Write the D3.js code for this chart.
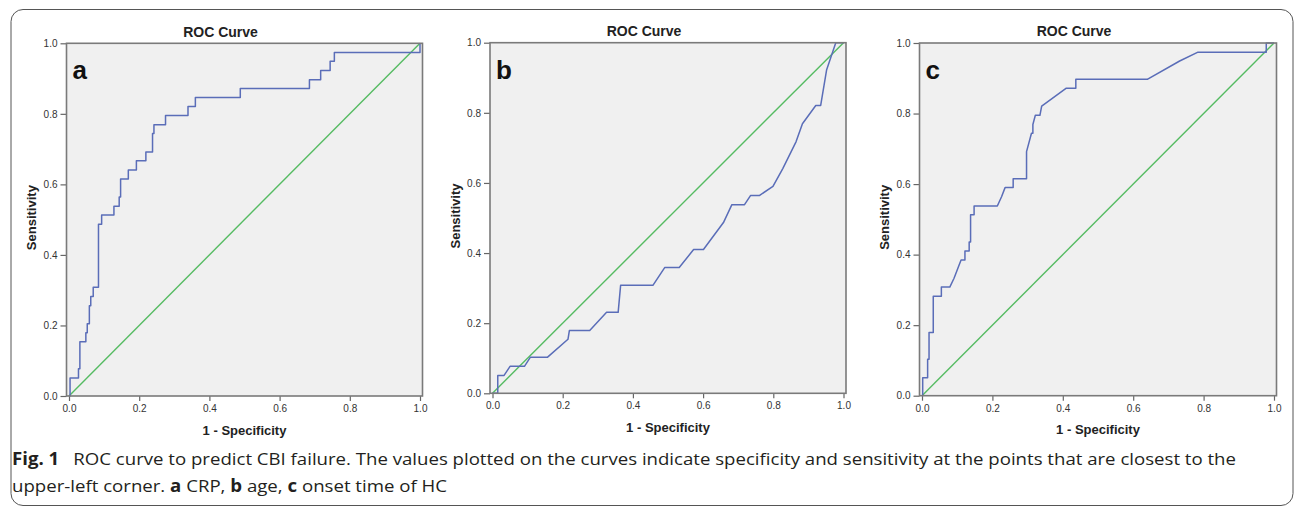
<!DOCTYPE html>
<html lang="en">
<head>
<meta charset="UTF-8">
<title>Fig. 1 ROC curves</title>
<script src="https://cdn.jsdelivr.net/npm/d3@7"></script>
<style>
    body { margin: 0; background: #fff; }
    svg { display: block; }
    .tick text { font-family: "Liberation Sans", Arial, sans-serif; font-size: 10px; fill: #333; }
    .tick line { stroke: #666; stroke-width: 1.2; }
</style>
</head>
<body>
<svg id="fig" width="1295" height="507"></svg>
<script>
// ROC data (1 - specificity, sensitivity)
const fprA = [0, 0.003, 0.003, 0.027, 0.027, 0.031, 0.031, 0.048, 0.048, 0.052, 0.052, 0.058, 0.058, 0.062, 0.062, 0.069, 0.069, 0.084, 0.084, 0.093, 0.093, 0.128, 0.128, 0.143, 0.143, 0.147, 0.147, 0.169, 0.169, 0.192, 0.192, 0.219, 0.219, 0.238, 0.238, 0.242, 0.242, 0.275, 0.275, 0.339, 0.339, 0.360, 0.360, 0.488, 0.488, 0.685, 0.685, 0.717, 0.717, 0.744, 0.744, 0.756, 0.756, 1.0, 1.0];
const tprA = [0, 0, 0.051, 0.051, 0.077, 0.077, 0.154, 0.154, 0.179, 0.179, 0.205, 0.205, 0.256, 0.256, 0.282, 0.282, 0.308, 0.308, 0.487, 0.487, 0.513, 0.513, 0.538, 0.538, 0.564, 0.564, 0.615, 0.615, 0.641, 0.641, 0.667, 0.667, 0.692, 0.692, 0.744, 0.744, 0.769, 0.769, 0.795, 0.795, 0.821, 0.821, 0.846, 0.846, 0.872, 0.872, 0.897, 0.897, 0.923, 0.923, 0.949, 0.949, 0.974, 0.974, 1.0];

const fprB = [0, 0.015, 0.015, 0.033, 0.050, 0.091, 0.108, 0.157, 0.215, 0.219, 0.277, 0.325, 0.358, 0.365, 0.457, 0.491, 0.532, 0.573, 0.601, 0.658, 0.682, 0.718, 0.735, 0.760, 0.799, 0.827, 0.865, 0.883, 0.921, 0.935, 0.952, 0.978, 1.0];
const tprB = [0, 0, 0.051, 0.051, 0.077, 0.077, 0.103, 0.103, 0.154, 0.179, 0.179, 0.231, 0.231, 0.308, 0.308, 0.359, 0.359, 0.410, 0.410, 0.487, 0.538, 0.538, 0.564, 0.564, 0.590, 0.641, 0.718, 0.769, 0.821, 0.821, 0.923, 1.0, 1.0];

const fprC = [0, 0.002, 0.002, 0.016, 0.016, 0.020, 0.020, 0.032, 0.032, 0.055, 0.055, 0.079, 0.091, 0.106, 0.111, 0.122, 0.122, 0.134, 0.134, 0.138, 0.138, 0.148, 0.148, 0.214, 0.226, 0.236, 0.259, 0.259, 0.297, 0.297, 0.311, 0.315, 0.315, 0.322, 0.335, 0.340, 0.410, 0.437, 0.437, 0.640, 0.732, 0.784, 0.978, 0.978, 1.0];
const tprC = [0, 0, 0.051, 0.051, 0.103, 0.103, 0.179, 0.179, 0.282, 0.282, 0.308, 0.308, 0.333, 0.372, 0.385, 0.385, 0.410, 0.410, 0.436, 0.436, 0.513, 0.513, 0.538, 0.538, 0.564, 0.590, 0.590, 0.615, 0.615, 0.692, 0.744, 0.744, 0.769, 0.795, 0.795, 0.821, 0.872, 0.872, 0.897, 0.897, 0.949, 0.974, 0.974, 1.0, 1.0];

// reference diagonal
const refLine = [0, 1];
const tickValues = [0, 0.2, 0.4, 0.6, 0.8, 1.0];
const panelLetters = ["a", "b", "c"];
const chartTitle = "ROC Curve";
const xLabel = "1 - Specificity";
const yLabel = "Sensitivity";

// panel frames (pixel boxes in the page)
const panels = [
    {letter: panelLetters[0], fpr: fprA, tpr: tprA, L: 66.5, R: 422.5, T: 43.3, B: 396},
    {letter: panelLetters[1], fpr: fprB, tpr: tprB, L: 490, R: 846, T: 42.7, B: 393.3},
    {letter: panelLetters[2], fpr: fprC, tpr: tprC, L: 919.5, R: 1276.5, T: 43, B: 395.7}
];

const svg = d3.select("#fig");
const sans = '"Liberation Sans", Arial, sans-serif';

// outer rounded frame of the figure
svg.append("rect")
    .attr("x", 11).attr("y", 9.5)
    .attr("width", 1282).attr("height", 496)
    .attr("rx", 12)
    .attr("fill", "none")
    .attr("stroke", "#555")
    .attr("stroke-width", 1);

panels.forEach(p => {
    const x = d3.scaleLinear().domain([0, 1]).range([p.L + 2.5, p.R - 2.5]);
    const y = d3.scaleLinear().domain([0, 1]).range([p.B, p.T]);
    const g = svg.append("g");

    g.append("rect")
        .attr("x", p.L).attr("y", p.T)
        .attr("width", p.R - p.L).attr("height", p.B - p.T)
        .attr("fill", "#f0f0f0");

    // axes
    const xAxis = g.append("g")
        .attr("transform", "translate(0," + p.B + ")")
        .call(d3.axisBottom(x).tickValues(tickValues).tickFormat(d3.format(".1f")).tickSize(5).tickPadding(4));
    xAxis.select(".domain").remove();

    const yAxis = g.append("g")
        .attr("transform", "translate(" + p.L + ",0)")
        .call(d3.axisLeft(y).tickValues(tickValues).tickFormat(d3.format(".1f")).tickSize(6).tickPadding(3));
    yAxis.select(".domain").remove();

    // diagonal reference
    const line = d3.line().x(d => x(d[0])).y(d => y(d[1]));
    g.append("path")
        .datum(refLine.map(v => [v, v]))
        .attr("d", line)
        .attr("fill", "none")
        .attr("stroke", "#55bb62")
        .attr("stroke-width", 1.4);

    // ROC curve
    g.append("path")
        .datum(p.fpr.map((f, i) => [f, p.tpr[i]]))
        .attr("d", line)
        .attr("fill", "none")
        .attr("stroke", "#5a6db8")
        .attr("stroke-width", 1.5)
        .attr("stroke-linejoin", "round");

    // frame border
    g.append("rect")
        .attr("x", p.L).attr("y", p.T)
        .attr("width", p.R - p.L).attr("height", p.B - p.T)
        .attr("fill", "none")
        .attr("stroke", "#7a7a7a")
        .attr("stroke-width", 1.6);

    // texts
    g.append("text")
        .attr("x", (p.L + p.R) / 2 - 24).attr("y", p.T - 6.8)
        .attr("text-anchor", "middle")
        .attr("font-family", sans).attr("font-size", 14).attr("font-weight", "bold")
        .attr("fill", "#222")
        .text(chartTitle);

    g.append("text")
        .attr("x", (p.L + p.R) / 2).attr("y", p.B + 38.5)
        .attr("text-anchor", "middle")
        .attr("font-family", sans).attr("font-size", 13).attr("font-weight", "bold")
        .attr("fill", "#222")
        .text(xLabel);

    g.append("text")
        .attr("transform", "translate(" + (p.L - 30.5) + "," + ((p.T + p.B) / 2 - 2) + ") rotate(-90)")
        .attr("text-anchor", "middle")
        .attr("font-family", sans).attr("font-size", 13).attr("font-weight", "bold")
        .attr("fill", "#222")
        .text(yLabel);

    g.append("text")
        .attr("x", p.L + 6).attr("y", p.T + 36)
        .attr("font-family", sans).attr("font-size", 26).attr("font-weight", "bold")
        .attr("fill", "#111")
        .text(p.letter);
});

// caption
const cap = svg.append("g")
    .attr("font-family", '"Open Sans", "Noto Sans", sans-serif')
    .attr("font-size", 17)
    .attr("fill", "#231f20");

const line1 = cap.append("text")
    .attr("x", 12).attr("y", 465)
    .attr("textLength", 1224).attr("lengthAdjust", "spacingAndGlyphs");
line1.append("tspan").attr("font-weight", "bold").text("Fig. 1");
line1.append("tspan").text("\u2002 ROC curve to predict CBI failure. The values plotted on the curves indicate specificity and sensitivity at the points that are closest to the");

const line2 = cap.append("text")
    .attr("x", 12).attr("y", 492)
    .attr("textLength", 435).attr("lengthAdjust", "spacingAndGlyphs");
line2.append("tspan").text("upper-left corner. ");
line2.append("tspan").attr("font-weight", "bold").text("a");
line2.append("tspan").text(" CRP, ");
line2.append("tspan").attr("font-weight", "bold").text("b");
line2.append("tspan").text(" age, ");
line2.append("tspan").attr("font-weight", "bold").text("c");
line2.append("tspan").text(" onset time of HC");
</script>
</body>
</html>
